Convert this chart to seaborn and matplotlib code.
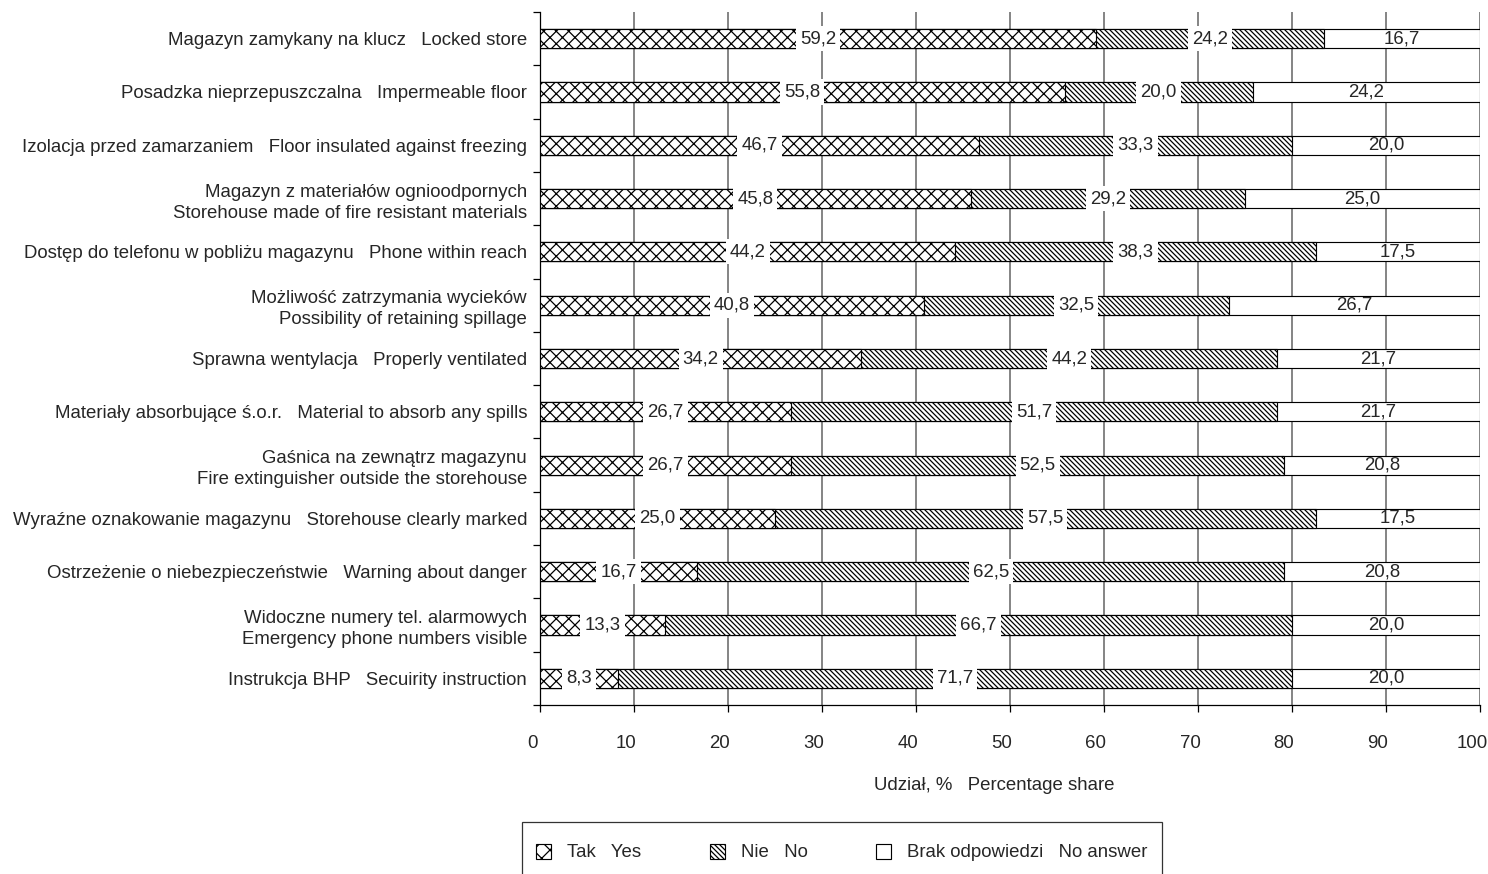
import numpy as np
import pandas as pd
import matplotlib
matplotlib.use("Agg")
import matplotlib.pyplot as plt
import matplotlib.patches as mpatches
import matplotlib.transforms as mtransforms
from matplotlib.legend_handler import HandlerPatch
import seaborn as sns

categories = [
    "Magazyn zamykany na klucz   Locked store",
    "Posadzka nieprzepuszczalna   Impermeable floor",
    "Izolacja przed zamarzaniem   Floor insulated against freezing",
    "Magazyn z materiałów ognioodpornych\nStorehouse made of fire resistant materials",
    "Dostęp do telefonu w pobliżu magazynu   Phone within reach",
    "Możliwość zatrzymania wycieków\nPossibility of retaining spillage",
    "Sprawna wentylacja   Properly ventilated",
    "Materiały absorbujące ś.o.r.   Material to absorb any spills",
    "Gaśnica na zewnątrz magazynu\nFire extinguisher outside the storehouse",
    "Wyraźne oznakowanie magazynu   Storehouse clearly marked",
    "Ostrzeżenie o niebezpieczeństwie   Warning about danger",
    "Widoczne numery tel. alarmowych\nEmergency phone numbers visible",
    "Instrukcja BHP   Secuirity instruction",
]
tak = [59.2, 55.8, 46.7, 45.8, 44.2, 40.8, 34.2, 26.7, 26.7, 25.0, 16.7, 13.3, 8.3]
nie = [24.2, 20.0, 33.3, 29.2, 38.3, 32.5, 44.2, 51.7, 52.5, 57.5, 62.5, 66.7, 71.7]
brak = [16.7, 24.2, 20.0, 25.0, 17.5, 26.7, 21.7, 21.7, 20.8, 17.5, 20.8, 20.0, 20.0]
series_names = ["Tak   Yes", "Nie   No", "Brak odpowiedzi   No answer"]
x_ticks = [0, 10, 20, 30, 40, 50, 60, 70, 80, 90, 100]
x_label = "Udział, %   Percentage share"

sns.set_style("white")
plt.rcParams["font.family"] = ["Liberation Sans", "DejaVu Sans"]
plt.rcParams["hatch.linewidth"] = 0.6

FS = 8.95
DPI = 150
W, H = 1489, 874
fig = plt.figure(figsize=(W / DPI, H / DPI), dpi=DPI)
ax = fig.add_axes([540 / W, 1 - 705 / H, (1480 - 540) / W, (705 - 12) / H])

df = pd.DataFrame({"cat": categories, "tak": tak, "nie": nie, "brak": brak})
df["c1"] = df["tak"]
df["c2"] = df["tak"] + df["nie"]
df["c3"] = np.minimum(df["c2"] + df["brak"], 100)

HATCH_TAK = "xxxx"
HATCH_NIE = "\\" * 10
bw = 0.36
lw = 0.55
sns.barplot(data=df, y="cat", x="c3", orient="h", color="white", saturation=1,
            edgecolor="black", linewidth=lw, width=bw, ax=ax, zorder=2)
sns.barplot(data=df, y="cat", x="c2", orient="h", color="white", saturation=1,
            edgecolor="black", linewidth=lw, width=bw, hatch=HATCH_NIE, ax=ax, zorder=3)
sns.barplot(data=df, y="cat", x="c1", orient="h", color="white", saturation=1,
            edgecolor="black", linewidth=lw, width=bw, hatch=HATCH_TAK, ax=ax, zorder=4)

def fmt(v):
    return f"{v:.1f}".replace(".", ",")

for i in range(len(df)):
    segs = [(0, df["c1"][i], tak[i], True), (df["c1"][i], df["c2"][i], nie[i], True),
            (df["c2"][i], df["c3"][i], brak[i], False)]
    for a, b, v, boxed in segs:
        kw = dict(bbox=dict(facecolor="white", edgecolor="none", pad=2.0)) if boxed else {}
        ax.text((a + b) / 2, i, fmt(v), ha="center", va="center", fontsize=FS, zorder=6, **kw)

ax.set_xlim(0, 100)
ax.set_ylim(len(df) - 0.5, -0.5)
ax.set_xticks(x_ticks)
ax.set_xticklabels([str(t) for t in x_ticks], fontsize=FS)
ax.tick_params(axis="x", length=3.4, width=0.6, direction="out", pad=11, bottom=True, color="black")
shift = mtransforms.ScaledTranslation(-8 / DPI, 0, fig.dpi_scale_trans)
for lab in ax.get_xticklabels():
    lab.set_transform(lab.get_transform() + shift)
ax.xaxis.grid(True, color="#808080", linewidth=0.9)
ax.yaxis.grid(False)
ax.set_axisbelow(True)

ax.set_yticks(range(len(df)))
ax.set_yticklabels(categories, fontsize=FS, linespacing=1.33)
ax.tick_params(axis="y", which="major", length=0, pad=6.2)
ax.set_yticks(np.arange(-0.5, len(df), 1), minor=True)
ax.tick_params(axis="y", which="minor", length=3.4, width=0.6, direction="out", left=True, color="black")
ax.set_ylabel("")
ax.set_xlabel(x_label, fontsize=FS)
ax.xaxis.set_label_coords((994 - 540) / 940, -(785 - 705) / 693)
ax.xaxis.label.set_va("center")

for s in ["top", "right"]:
    ax.spines[s].set_visible(False)
for s in ["left", "bottom"]:
    ax.spines[s].set_color("black")
    ax.spines[s].set_linewidth(0.6)

SQ = 15 * 72 / DPI  # legend square side in points


def square(legend, orig_handle, xdescent, ydescent, width, height, fontsize):
    cx = -xdescent + width / 2
    cy = -ydescent + height / 2
    return mpatches.Rectangle((cx - SQ / 2, cy - SQ / 2), SQ, SQ)


handles = [
    mpatches.Patch(facecolor="white", edgecolor="black", hatch="xxx", linewidth=lw, label=series_names[0]),
    mpatches.Patch(facecolor="white", edgecolor="black", hatch=HATCH_NIE, linewidth=lw, label=series_names[1]),
    mpatches.Patch(facecolor="white", edgecolor="black", linewidth=lw, label=series_names[2]),
]
leg = fig.legend(handles=handles, loc="upper left", bbox_to_anchor=(522 / W, 1 - 822 / H),
                 ncol=3, fontsize=FS, frameon=True, fancybox=False, edgecolor="black",
                 handlelength=0.8, handleheight=2.2, handletextpad=0.85, columnspacing=3.7,
                 borderpad=0.75, borderaxespad=0,
                 handler_map={mpatches.Patch: HandlerPatch(patch_func=square)})
leg.get_frame().set_linewidth(0.6)

fig.savefig("out.png", dpi=DPI)
